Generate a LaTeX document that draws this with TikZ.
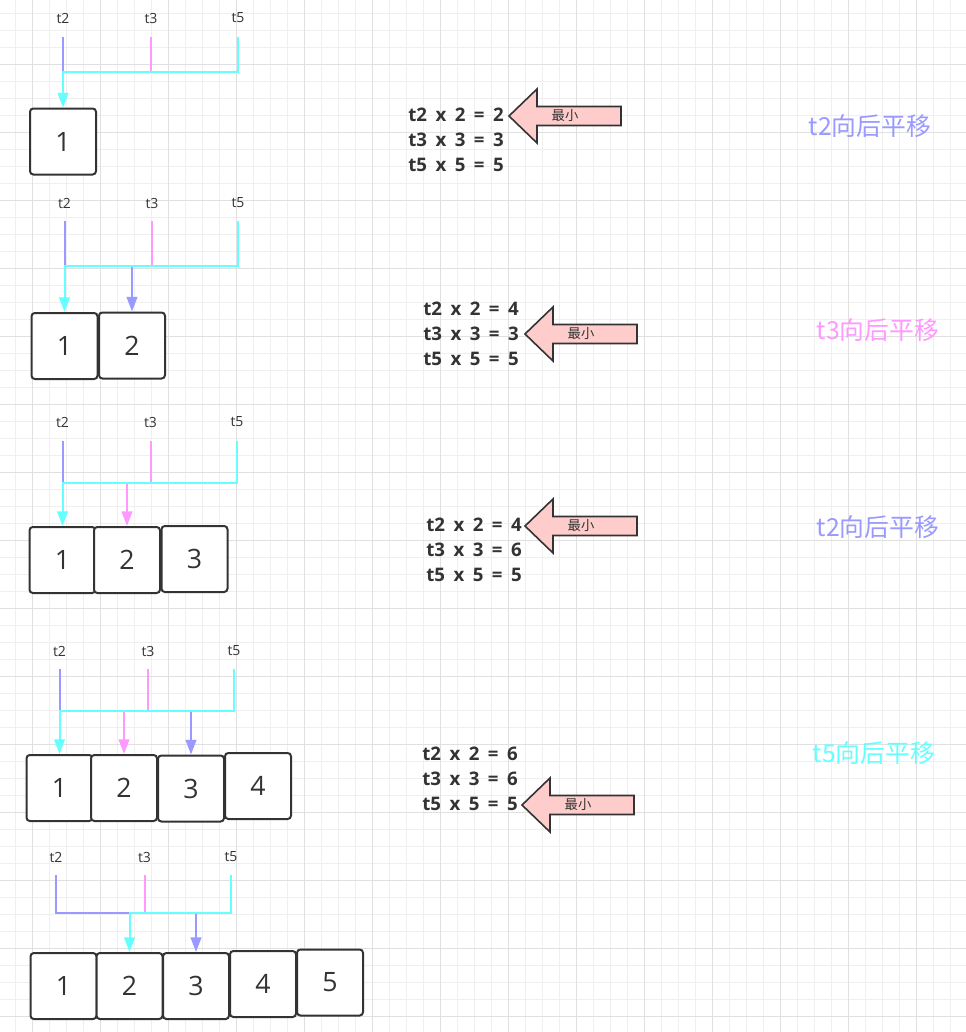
\documentclass[tikz,border=0pt]{standalone}
\usepackage{fontspec}
\setmainfont{Open Sans}
\newfontfamily\cjk{Noto Sans CJK SC}
\newfontfamily\eqfont[WordSpace=1.75]{Open Sans}
\usetikzlibrary{arrows.meta}
\definecolor{ptwo}{HTML}{9999FF}
\definecolor{pthree}{HTML}{FF99FF}
\definecolor{pfive}{HTML}{66FFFF}
\definecolor{ink}{HTML}{333333}
\definecolor{minfill}{HTML}{FFCCCC}
\definecolor{gridminor}{HTML}{EFEFEF}
\definecolor{gridmajor}{HTML}{E0E0E0}
\tikzset{cell/.style={draw=ink, line width=1.5pt, rounded corners=2.5pt, fill=white, minimum width=49.5pt, minimum height=49.5pt, inner sep=0pt, text=ink, font=\fontsize{20}{24}\selectfont},
         tlab/.style={text=ink, inner sep=1pt, font=\fontsize{10.5}{12}\selectfont},
         ptr/.style={line width=1.5pt, -{Triangle[length=11pt,width=8pt]}},
         stub/.style={line width=1.5pt},
         eqs/.style={text=ink, align=left, inner sep=0pt, anchor=west, font=\eqfont\bfseries\fontsize{14}{18.6}\selectfont},
         movelab/.style={inner sep=0pt, font=\cjk\fontsize{18.6}{20}\selectfont},
         mintxt/.style={text=ink, inner sep=0pt, font=\cjk\fontsize{10}{12}\selectfont}}
\newcommand\minarrow[3]{%
  \draw[draw=ink, fill=minfill, line width=1.2pt] (#1,#2) -- ++(28,-27) -- ++(0,17.5) -- ++(84,0) -- ++(0,19) -- ++(-84,0) -- ++(0,17.5) -- cycle;
  \node[mintxt] (#3) at (#1+56,#2) {最小};}

\begin{document}
\begin{tikzpicture}[x=0.75pt, y=-0.75pt]
  \useasboundingbox (0,0) rectangle (966,1032);
  \fill[white] (0,0) rectangle (966,1032);
  \begin{scope}
   \clip (0,0) rectangle (966,1032);
   \foreach \k in {-1,...,55} \draw[gridminor, line width=0.75pt] ({32.3+17*\k},0) -- ++(0,1032);
   \foreach \k in {0,...,60} \draw[gridminor, line width=0.75pt] (0,{13.5+17*\k}) -- ++(966,0);
   \foreach \k in {0,4,...,52} \draw[gridmajor, line width=0.75pt] ({32.3+17*\k},0) -- ++(0,1032);
   \foreach \k in {3,7,...,59} \draw[gridmajor, line width=0.75pt] (0,{13.5+17*\k}) -- ++(966,0);
  \end{scope}

  \begin{scope}
   \node[tlab] (l1a) at ( 63,18) {t2};
   \node[tlab] (l1b) at (151,18) {t3};
   \node[tlab] (l1c) at (238,18) {t5};
   \coordinate (s1a) at ( 63,37);
   \coordinate (s1b) at (151,37);
   \coordinate (s1c) at (238,37);
   \node[cell] (c11) at (63,141.5) {1};
   \draw[stub, ptwo]   (s1a) -- ++(0,35);
   \draw[stub, pthree] (s1b) -- ++(0,35);
   \draw[ptr, pfive]   (s1c) -- ++(0,35) -| (c11.north);
   \node[eqs] (e1) at (408,140) {t2 x 2 = 2\\t3 x 3 = 3\\t5 x 5 = 5};
   \minarrow{509}{116}{m1}
   \node[movelab, text=ptwo] (r1) at (870,126) {t2向后平移};
  \end{scope}

  \begin{scope}
   \node[tlab] (l2a) at ( 64.5,203) {t2};
   \node[tlab] (l2b) at (152,203) {t3};
   \node[tlab] (l2c) at (238,203) {t5};
   \coordinate (s2a) at ( 64.5,221);
   \coordinate (s2b) at (152,221);
   \coordinate (s2c) at (238,221);
   \node[cell] (c21) at ( 64.5,346) {1};
   \node[cell] (c22) at (132,345.5) {2};
   \draw[ptr, ptwo]    (s2a) -- ++(0,45) -| (c22.north);
   \draw[stub, pthree] (s2b) -- ++(0,45);
   \draw[ptr, pfive]   (s2c) -- ++(0,45) -| (c21.north);
   \node[eqs] (e2) at (423,334) {t2 x 2 = 4\\t3 x 3 = 3\\t5 x 5 = 5};
   \minarrow{525}{334}{m2}
   \node[movelab, text=pthree] (r2) at (878,330) {t3向后平移};
  \end{scope}

  \begin{scope}
   \node[tlab] (l3a) at ( 62.5,422) {t2};
   \node[tlab] (l3b) at (150.5,422) {t3};
   \node[tlab] (l3c) at (237,422) {t5};
   \coordinate (s3a) at ( 62.5,441);
   \coordinate (s3b) at (150.5,441);
   \coordinate (s3c) at (237,441);
   \node[cell] (c31) at ( 62.5,560) {1};
   \node[cell] (c32) at (127,560) {2};
   \node[cell] (c33) at (194.5,559) {3};
   \draw[stub, ptwo]   (s3a) -- ++(0,42);
   \draw[ptr, pthree]  (s3b) -- ++(0,42) -| (c32.north);
   \draw[ptr, pfive]   (s3c) -- ++(0,42) -| (c31.north);
   \node[eqs] (e3) at (426,550) {t2 x 2 = 4\\t3 x 3 = 6\\t5 x 5 = 5};
   \minarrow{525}{526}{m3}
   \node[movelab, text=ptwo] (r3) at (878,527) {t2向后平移};
  \end{scope}

  \begin{scope}
   \node[tlab] (l4a) at ( 59.5,651) {t2};
   \node[tlab] (l4b) at (148,651) {t3};
   \node[tlab] (l4c) at (234,651) {t5};
   \coordinate (s4a) at ( 59.5,669);
   \coordinate (s4b) at (148,669);
   \coordinate (s4c) at (234,669);
   \node[cell] (c41) at ( 59.5,788) {1};
   \node[cell] (c42) at (124,788) {2};
   \node[cell] (c43) at (191,788.5) {3};
   \node[cell] (c44) at (258,786) {4};
   \draw[ptr, ptwo]    (s4a) -- ++(0,42) -| (c43.north);
   \draw[ptr, pthree]  (s4b) -- ++(0,42) -| (c42.north);
   \draw[ptr, pfive]   (s4c) -- ++(0,42) -| (c41.north);
   \node[eqs] (e4) at (422,779) {t2 x 2 = 6\\t3 x 3 = 6\\t5 x 5 = 5};
   \minarrow{522}{805}{m4}
   \node[movelab, text=pfive] (r4) at (874,753) {t5向后平移};
  \end{scope}

  \begin{scope}
   \node[tlab] (l5a) at ( 56,857) {t2};
   \node[tlab] (l5b) at (144.5,857) {t3};
   \node[tlab] (l5c) at (231,857) {t5};
   \coordinate (s5a) at ( 56,875);
   \coordinate (s5b) at (144.5,875);
   \coordinate (s5c) at (231,875);
   \node[cell] (c51) at ( 63.5,986) {1};
   \node[cell] (c52) at (129.5,986) {2};
   \node[cell] (c53) at (196,986) {3};
   \node[cell] (c54) at (263,984) {4};
   \node[cell] (c55) at (330,982.5) {5};
   \draw[ptr, ptwo]    (s5a) -- ++(0,38) -| (c53.north);
   \draw[stub, pthree] (s5b) -- ++(0,38);
   \draw[ptr, pfive]   (s5c) -- ++(0,38) -| (c52.north);
  \end{scope}
\end{tikzpicture}
\end{document}
